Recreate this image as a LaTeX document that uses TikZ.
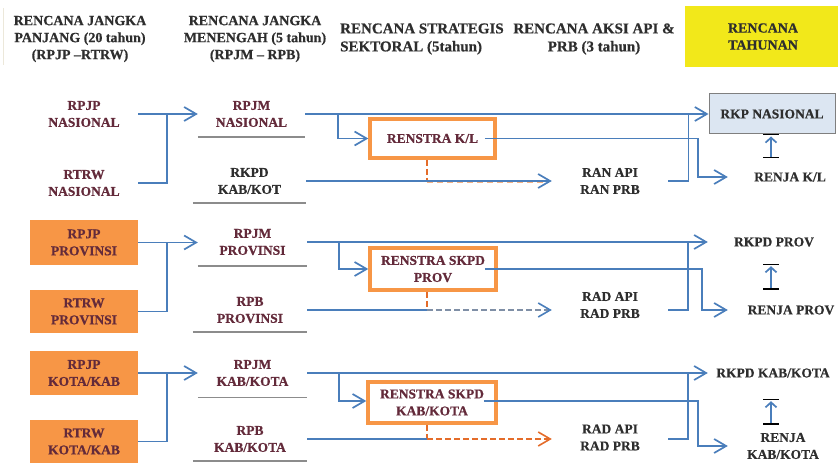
\documentclass[tikz,border=0pt]{standalone}
\usepackage{fontspec}
\setmainfont{Liberation Serif}
\newfontfamily\boldserif{Liberation Serif Bold}[FakeBold=0.6, Ligatures=TeX]
\usetikzlibrary{arrows.meta}

\definecolor{lineblue}{HTML}{4A7EBB}
\definecolor{boxorange}{HTML}{F79646}
\definecolor{planred}{HTML}{632A3A}
\definecolor{ink}{HTML}{2E2E2E}
\definecolor{rulegray}{HTML}{8C8C8C}
\definecolor{headyellow}{HTML}{F2E81A}
\definecolor{rkpfill}{HTML}{DCE6F2}
\definecolor{rkpedge}{HTML}{7F7F7F}
\definecolor{dashorange}{HTML}{E46C2A}
\definecolor{paleorange}{HTML}{F4B183}
\definecolor{dashgray}{HTML}{7F8FA6}
\definecolor{edgebeige}{HTML}{ECE8DA}

\newcommand{\nodefont}{\boldserif\fontsize{13.5}{17}\selectfont}
\newcommand{\colheadfont}{\boldserif\fontsize{14}{17}\selectfont}
\newcommand{\colwidefont}{\boldserif\fontsize{15}{18}\selectfont}

\tikzset{
  every node/.style={font=\nodefont, align=center, inner sep=0pt},
  plan/.style={text=planred},
  plain/.style={text=ink},
  srcbox/.style={plan, fill=boxorange, minimum width=108pt},
  stratbox/.style={plan, draw=boxorange, line width=3.5pt, fill=white},
  colhead/.style={text=ink, font=\colheadfont},
  colwide/.style={text=ink, font=\colwidefont},
  wire/.style={draw=lineblue, line width=1.7pt},
  flow/.style={wire, -{Straight Barb[length=12pt,width=14pt]}},
  underline/.style={draw=rulegray, line width=1.8pt},
  dropdash/.style={draw=dashorange, line width=1.6pt, dash pattern=on 6pt off 3pt},
  syncup/.style={wire, -{Straight Barb[length=5pt,width=11pt]}},
  syncbar/.style={draw=black, line width=1.4pt},
}

\begin{document}
\begin{tikzpicture}[x=1pt, y=-1pt]
\useasboundingbox (0,0) rectangle (838,465);

% ---------- column headings ----------
\draw[draw=edgebeige, line width=1pt] (3,8) -- (3,65);
\node[colhead] (h1) at (80,39) {RENCANA JANGKA\\PANJANG (20 tahun)\\(RPJP –RTRW)};
\node[colhead] (h2) at (255,39) {RENCANA JANGKA\\MENENGAH (5 tahun)\\(RPJM – RPB)};
\node[colwide, anchor=west, align=left] (h3) at (340,39) {RENCANA STRATEGIS\\SEKTORAL (5tahun)};
\node[colwide] (h4) at (594,39) {RENCANA AKSI API \&\\PRB (3 tahun)};
\node[colhead, fill=headyellow, minimum width=156pt, minimum height=61pt] (h5) at (763,36.5) {RENCANA\\TAHUNAN};

\coordinate (barcol) at (771,0);

% ---------- national level ----------
\node[plan, minimum width=108pt] (rpjpN) at (84,114) {RPJP\\NASIONAL};
\node[plan, minimum width=108pt] (rtrwN) at (84,183) {RTRW\\NASIONAL};
\node[plan, minimum width=107pt, minimum height=46pt] (rpjmN) at (251.5,114) {RPJM\\NASIONAL};
\node[plain, minimum width=113pt, minimum height=44pt] (rkpdN) at (249.5,181) {RKPD\\KAB/KOT};
\node[stratbox, minimum width=125pt, minimum height=39pt] (renN) at (432.5,138.5) {RENSTRA K/L};
\node[plain, minimum width=116pt] (ranN) at (610,181) {RAN API\\RAN PRB};
\node[plain, draw=rkpedge, fill=rkpfill, line width=1pt, minimum width=126pt, minimum height=40pt] (rkpN) at (772,114) {RKP NASIONAL};
\node[plain, minimum width=124pt, minimum height=38pt] (renjaN) at (790,177) {RENJA K/L};

\draw[underline] (rpjmN.south west) -- (rpjmN.south east);
\draw[underline] (rkpdN.south west) -- (rkpdN.south east);

\draw[flow] (rpjpN.east) -- (rpjmN.west);
\draw[wire] (rtrwN.east) -| ([xshift=29pt]rpjpN.east);
\draw[flow] (rpjmN.east) -- (rkpN.west);
\draw[flow] ([xshift=33pt]rpjmN.east) |- (renN.west);
\draw[flow] ([xshift=-12pt]renN.east) -| ([xshift=-30pt]renjaN.west) -- (renjaN.west);
\draw[dropdash] ([xshift=-5.5pt]renN.south) -- ([xshift=-5.5pt]renN.south |- rkpdN.east);
\draw[draw=paleorange, line width=1.4pt, dash pattern=on 6pt off 4pt]
  ([xshift=-5.5pt,yshift=-1.5pt]renN.south |- rkpdN.east) -- ([xshift=-8pt,yshift=-1.5pt]rkpdN.east -| ranN.west);
\draw[flow] (rkpdN.east) -- (rkpdN.east -| ranN.west);
\draw[wire] (ranN.east) -| ([xshift=-20pt]rkpN.west);
\draw[syncup] (renjaN.north -| barcol) -- ([yshift=-2pt]rkpN.south -| barcol);
\draw[syncbar] ([xshift=-8pt]rkpN.south -| barcol) -- ([xshift=8pt]rkpN.south -| barcol);
\draw[syncbar] ([xshift=-8pt]renjaN.north -| barcol) -- ([xshift=8pt]renjaN.north -| barcol);

% ---------- provincial level ----------
\node[srcbox, minimum height=45pt] (rpjpP) at (84,242.5) {RPJP\\PROVINSI};
\node[srcbox, minimum height=43pt] (rtrwP) at (84,311.5) {RTRW\\PROVINSI};
\node[plan, minimum width=109pt, minimum height=48pt] (rpjmP) at (252.5,242) {RPJM\\PROVINSI};
\node[plan, minimum width=114pt, minimum height=44pt] (rpbP) at (250,310) {RPB\\PROVINSI};
\node[stratbox, minimum width=126pt, minimum height=42pt] (renP) at (433,269) {RENSTRA SKPD\\PROV};
\node[plain, minimum width=116pt] (radP) at (610,305) {RAD API\\RAD PRB};
\node[plain, minimum width=132pt, minimum height=44pt] (rkpdP) at (774,242) {RKPD PROV};
\node[plain, minimum width=126pt, minimum height=42pt] (renjaP) at (791,310) {RENJA PROV};

\draw[underline] (rpjmP.south west) -- (rpjmP.south east);
\draw[underline] (rpbP.south west) -- (rpbP.south east);

\draw[flow] (rpjpP.east) -- (rpjpP.east -| rpjmP.west);
\draw[wire] (rtrwP.east) -| ([xshift=29pt]rpjpP.east);
\draw[flow] (rpjmP.east) -- (rkpdP.west);
\draw[flow] ([xshift=32pt]rpjmP.east) |- (renP.west);
\draw[flow] ([xshift=-13pt]renP.east) -| ([xshift=-26pt]renjaP.west) -- (renjaP.west);
\draw[dropdash] ([xshift=-6pt]renP.south) -- ([xshift=-6pt]renP.south |- rpbP.east);
\draw[wire] (rpbP.east) -- ([xshift=-6pt]renP.south |- rpbP.east);
\draw[draw=dashgray, line width=1.6pt, dash pattern=on 6pt off 3pt, -{Straight Barb[length=12pt,width=14pt,color=lineblue]}]
  ([xshift=-6pt]renP.south |- rpbP.east) -- (rpbP.east -| radP.west);
\draw[wire] (radP.east |- rpbP.east) -| ([xshift=-20pt]rkpdP.west);
\draw[syncup] (renjaP.north -| barcol) -- ([yshift=-2pt]rkpdP.south -| barcol);
\draw[syncbar] ([xshift=-8pt]rkpdP.south -| barcol) -- ([xshift=8pt]rkpdP.south -| barcol);
\draw[syncbar] ([xshift=-8pt]renjaP.north -| barcol) -- ([xshift=8pt]renjaP.north -| barcol);

% ---------- city / regency level ----------
\node[srcbox, minimum height=44pt] (rpjpK) at (84,373) {RPJP\\KOTA/KAB};
\node[srcbox, minimum height=43pt] (rtrwK) at (84,441.5) {RTRW\\KOTA/KAB};
\node[plan, minimum width=109pt, minimum height=48pt] (rpjmK) at (252.5,373) {RPJM\\KAB/KOTA};
\node[plan, minimum width=114pt, minimum height=44pt] (rpbK) at (250,439) {RPB\\KAB/KOTA};
\node[stratbox, minimum width=128pt, minimum height=41pt] (renK) at (432,402.5) {RENSTRA SKPD\\KAB/KOTA};
\node[plain, minimum width=116pt] (radK) at (610,437.5) {RAD API\\RAD PRB};
\node[plain, minimum width=130pt, minimum height=52pt] (rkpdK) at (773,373) {RKPD KAB/KOTA};
\node[plain, minimum width=110pt, minimum height=44pt] (renjaK) at (783,446) {RENJA\\KAB/KOTA};

\draw[draw=rulegray, line width=1pt] (rpjmK.south west) -- (rpjmK.south east);
\draw[underline] (rpbK.south west) -- (rpbK.south east);

\draw[flow] (rpjpK.east) -- (rpjpK.east -| rpjmK.west);
\draw[wire] (rtrwK.east) -| ([xshift=29pt]rpjpK.east);
\draw[flow] (rpjmK.east) -- (rkpdK.west);
\draw[flow] ([xshift=32pt]rpjmK.east) |- ([yshift=1.5pt]renK.west);
\draw[flow] ([xshift=-14pt,yshift=1.5pt]renK.east) -| ([xshift=-30pt]renjaK.west) -- (renjaK.west);
\draw[dropdash] ([xshift=-5pt]renK.south) -- ([xshift=-5pt]renK.south |- rpbK.east);
\draw[wire] (rpbK.east) -- ([xshift=-5pt]renK.south |- rpbK.east);
\draw[dropdash, -{Straight Barb[length=12pt,width=14pt]}]
  ([xshift=-5pt]renK.south |- rpbK.east) -- (rpbK.east -| radK.west);
\draw[wire] (radK.east |- rpbK.east) -| ([xshift=-20pt]rkpdK.west);
\draw[syncup] (renjaK.north -| barcol) -- ([yshift=-2pt]rkpdK.south -| barcol);
\draw[syncbar] ([xshift=-8pt]rkpdK.south -| barcol) -- ([xshift=8pt]rkpdK.south -| barcol);
\draw[syncbar] ([xshift=-8pt]renjaK.north -| barcol) -- ([xshift=8pt]renjaK.north -| barcol);

\end{tikzpicture}
\end{document}
